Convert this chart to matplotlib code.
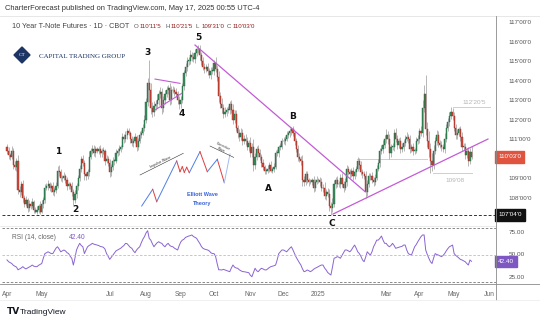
import numpy as np
import pandas as pd
import matplotlib
matplotlib.use("Agg")
import matplotlib.pyplot as plt
import matplotlib.transforms as mtransforms
from matplotlib.patches import Polygon

plt.rcParams['font.family'] = ['Liberation Sans', 'DejaVu Sans']

# ---------------- data (10Y T-Note futures, daily) ----------------
first_open = 110.6
closes = [
    110.4, 110.2, 110.1, 110.4, 109.7,
    109.6, 109.9, 108.4, 108.3, 108.7,
    108.0, 107.7, 107.9, 107.5, 107.7,
    107.6, 107.8, 107.4, 107.3, 107.4,
    107.6, 107.3, 107.7, 107.9, 108.5,
    108.6, 108.7, 108.5, 108.6, 108.3,
    108.4, 108.6, 109.4, 109.3, 109.0,
    109.0, 109.1, 108.9, 108.6, 108.7,
    108.6, 108.3, 107.9, 108.2, 108.6,
    109.0, 109.5, 110.0, 109.8, 109.2,
    109.1, 109.3, 110.1, 110.4, 110.5,
    110.3, 110.5, 110.4, 110.5, 110.3,
    110.4, 110.4, 109.9, 110.0, 109.8,
    109.3, 109.6, 109.9, 109.9, 110.3,
    110.4, 110.5, 110.6, 111.1, 111.0,
    111.2, 111.4, 111.3, 111.0, 110.8,
    110.9, 111.1, 110.6, 110.9, 111.2,
    111.3, 111.6, 112.0, 112.9, 113.9,
    113.5, 112.6, 112.4, 112.7, 112.8,
    113.0, 113.3, 113.4, 112.6, 113.0,
    113.3, 113.5, 113.6, 113.0, 113.5,
    113.5, 113.4, 113.3, 113.0, 112.8,
    113.0, 113.7, 114.4, 114.7, 115.0,
    115.0, 115.3, 115.2, 115.1, 115.4,
    115.6, 115.6, 115.3, 115.0, 114.7,
    114.6, 114.7, 114.5, 114.3, 114.5,
    114.5, 114.9, 114.6, 114.2, 113.2,
    112.8, 112.6, 112.3, 112.4, 112.5,
    112.5, 112.8, 112.5, 112.0, 112.3,
    111.6, 111.3, 111.1, 111.3, 110.9,
    111.0, 110.9, 110.6, 110.8, 110.3,
    110.6, 109.7, 110.1, 110.5, 110.3,
    110.1, 109.8, 109.6, 109.4, 109.4,
    109.5, 109.7, 109.4, 109.5, 109.6,
    110.3, 110.3, 110.6, 110.6, 110.9,
    110.9, 111.0, 111.2, 111.3, 111.4,
    111.5, 111.3, 110.9, 110.5, 110.1,
    110.0, 109.9, 108.9, 108.8, 109.2,
    108.9, 108.8, 108.8, 108.9, 108.5,
    108.8, 108.9, 108.9, 108.8, 108.5,
    108.5, 108.1, 108.3, 108.2, 107.6,
    107.5, 107.7, 108.7, 108.9, 108.7,
    108.7, 109.0, 108.7, 108.5, 108.8,
    109.5, 109.3, 109.2, 109.4, 109.1,
    109.3, 109.5, 109.9, 109.7, 109.3,
    109.2, 109.1, 108.3, 108.7, 109.1,
    109.1, 108.9, 108.8, 109.0, 109.5,
    109.8, 110.4, 110.5, 110.7, 111.0,
    111.2, 111.0, 110.3, 110.6, 110.6,
    111.3, 111.0, 110.7, 110.9, 110.5,
    110.6, 110.8, 111.0, 111.1, 111.0,
    110.5, 110.6, 110.4, 110.4, 110.9,
    111.0, 111.4, 111.3, 112.6, 113.3,
    111.5, 110.9, 110.5, 109.9, 109.7,
    110.4, 110.9, 111.2, 110.8, 110.7,
    110.6, 110.5, 111.0, 111.6, 111.9,
    112.2, 112.4, 112.2, 111.6, 111.2,
    111.3, 111.5, 111.1, 110.6, 110.6,
    110.2, 110.4, 109.9, 110.36, 110.094,
]
wick_hi = [
    .15, .2, .1, .25, .15,  .2, .15, .3, .2, .15,  .2, .15, .2, .1, .2,
    .15, .2, .1, .15, .2,   .1, .25, .2, .15, .2,  .15, .2, .1, .15, .2,
    .15, .2, .25, .3, .2,   .15, .2, .1, .15, .1,  .1, .2, .15, .2, .15,
    .15, .2, .15, .2, .15,  .1, .2, .3, .15, .2,   .2, .15, .1, .15, .2,
    .15, .2, .1, .2, .15,   .2, .15, .2, .1, .2,   .15, .2, .1, .2, .15,
    .2, .15, .2, .1, .15,   .15, .2, .1, .15, .2,  .15, .2, .25, .2, .25,
    1.15, .4, .3, .25, .2,  .3, .2, .25, .2, .2,   .2, .25, .2, .3, .2,
    .2, .15, .2, .15, .2,   .2, .2, .15, .2, .2,   .2, .25, .15, .2, .2,
    .15, .2, .2, .15, .2,   .2, .15, .2, .15, .2,  .2, .15, .3, .2, .3,
    .2, .3, .2, .25, .15,   .2, .15, .2, .3, .2,   .2, .15, .2, .3, .2,
    .2, .25, .2, .15, .3,   .2, .4, .2, .15, .2,   .2, .15, .2, .1, .15,
    .2, .15, .2, .1, .2,    .15, .2, .1, .2, .15,  .2, .15, .2, .1, .15,
    .15, .2, .1, .15, .2,   .2, .15, .3, .2, .2,   .15, .1, .15, .1, .2,
    .15, .2, .1, .15, .2,   .2, .3, .15, .2, .25,  .2, .3, .2, .15, .2,
    .15, .2, .25, .15, .2,  .2, .15, .2, .15, .2,  .2, .15, .2, .15, .2,
    .2, .15, .3, .2, .15,   .15, .2, .15, .2, .2,  .2, .15, .2, .25, .2,
    .3, .2, .25, .15, .2,   .2, .25, .2, .15, .2,  .2, .15, .2, .25, .15,
    .2, .15, .2, .15, .2,   .2, .2, .3, .4, .5,    1.0, .4, .5, .3, .4,
    .3, .2, .25, .2, .15,   .2, .15, .3, .2, .2,   .2, .24, .2, .2, .2,
    .2, .15, .2, .25, .2,   .2, .15, .2, .2, .31,
]
wick_lo = [
    .15, .2, .15, .1, .2,   .15, .2, .2, .25, .15,  .2, .15, .1, .2, .15,
    .15, .1, .2, .1, .15,   .2, .15, .1, .2, .15,   .1, .2, .15, .2, .15,
    .2, .15, .1, .2, .15,   .2, .1, .15, .2, .15,   .15, .2, .25, .15, .2,
    .2, .15, .2, .15, .3,   .2, .15, .2, .1, .15,   .15, .2, .1, .15, .2,
    .2, .15, .2, .1, .15,   .25, .2, .15, .2, .1,   .15, .2, .15, .1, .2,
    .15, .2, .1, .2, .15,   .2, .1, .2, .15, .1,    .15, .1, .2, .15, .2,
    .6, .3, .25, .2, .2,    .2, .25, .2, .3, .2,    .2, .15, .2, .25, .2,
    .15, .2, .15, .2, .25,  .2, .15, .2, .15, .2,   .2, .15, .2, .15, .2,
    .15, .2, .25, .2, .15,  .2, .15, .2, .15, .2,   .15, .2, .15, .2, .3,
    .2, .25, .2, .15, .2,   .15, .2, .15, .2, .15,  .2, .25, .2, .15, .2,
    .15, .2, .15, .2, .2,   .2, .3, .2, .15, .2,    .15, .2, .15, .2, .2,
    .15, .2, .1, .15, .2,   .1, .15, .2, .15, .1,   .15, .2, .1, .15, .2,
    .2, .15, .2, .15, .2,   .15, .2, .3, .2, .15,   .15, .2, .1, .15, .2,
    .15, .1, .15, .2, .15,  .2, .15, .2, .15, .25,  .375, .2, .15, .2, .15,
    .15, .2, .15, .2, .1,   .2, .15, .2, .15, .2,   .15, .2, .15, .2, .15,
    .2, .15, .3, .2, .15,   .2, .15, .2, .15, .1,   .15, .2, .15, .2, .15,
    .2, .25, .3, .2, .15,   .2, .15, .2, .15, .2,   .15, .2, .15, .1, .2,
    .2, .15, .2, .15, .1,   .15, .2, .15, .2, .2,   .3, .3, .4, .65, .3,
    .2, .15, .2, .2, .15,   .2, .15, .2, .15, .2,   .2, .15, .2, .2, .2,
    .2, .15, .2, .2, .15,   .2, .15, .25, .15, .125,
]
rsi = [
    44, 42, 41, 40, 38,   37, 36, 33, 34, 35,   36.5, 35, 34, 35, 36,
    37, 38.3, 37, 36.5, 36.5,   38, 39, 40, 46, 51,   52, 53, 52, 51, 51,
    54, 57, 58.6, 56, 53,   54, 55, 54, 52, 51,   48, 45.8, 38.3, 46, 55,
    59, 62.4, 60, 58.6, 51,   55, 58.6, 60, 61, 62.4,   61.5, 61, 60.5, 60, 59,
    58.6, 58, 56, 51, 48,   44.6, 47, 49.4, 52, 54,   55, 56, 57, 58.6, 60,
    62.4, 62, 60, 58, 56.9,   54, 52, 55, 57, 58.6,   63, 67, 69.8, 74, 76.4,
    68, 66, 62, 58.6, 61,   63, 64.2, 63, 62.4, 60,   58.6, 61, 62.4, 60, 59,
    58.6, 57, 56, 55, 60,   64, 66, 67, 69, 69.8,   70.5, 71, 71.7, 70, 69,
    68, 65, 62.4, 59, 56.9,   56, 55.5, 55, 54, 52,   51, 51, 48, 40, 33,
    33, 32.8, 33.5, 32.8, 32,   31.5, 30.9, 35, 38.3, 36,   35, 34.7, 33, 32, 31,
    30.9, 30.5, 30, 29.8, 27,   25.3, 30, 34.7, 32, 30.9,   33, 34.7, 34, 33, 32.8,
    34, 35.5, 36.5, 37, 37.5,   38.3, 44, 51, 53, 55,   55, 54, 53, 55, 57,
    58.6, 55, 51, 47, 43.9,   41, 38.3, 34, 30.9, 31.5,   32.8, 32, 30.9, 32, 33.5,
    34.7, 35.5, 36.5, 37.5, 38.3,   38.3, 35, 32.8, 30, 28.5,   27.2, 36, 45.8, 46.5, 47.6,
    47, 45.8, 49, 52, 55,   55, 54, 53, 55, 58,   60.5, 57, 53, 51, 48,
    44, 42, 47, 53, 51,   49.4, 53, 58.6, 62, 66,   66, 68, 70.5, 66, 62.4,
    62.4, 60, 58.6, 60, 62.4,   60, 56.9, 57.5, 58, 58.6,   59, 60.5, 60.5, 55, 51,
    50, 49.4, 54, 58.6, 61,   64.2, 67, 69.8, 71.7, 71.7,   55, 50, 45.8, 42, 40,
    46, 51, 50, 49.4, 48.5,   47.6, 49, 51, 54, 56.5,   58.6, 59.5, 60.5, 51, 49,
    47.6, 46, 44.5, 43.9, 43,   42, 40, 38.3, 43.9, 42.4,
]
month_labels = ["Apr", "May", "Jul", "Aug", "Sep", "Oct", "Nov", "Dec",
                "2025", "Mar", "Apr", "May", "Jun"]
month_starts = ["2024-04-01", "2024-05-01", "2024-07-01", "2024-08-01",
                "2024-09-02", "2024-10-01", "2024-11-01", "2024-12-02",
                "2025-01-01", "2025-03-03", "2025-04-01", "2025-05-01",
                "2025-06-02"]
price_ticks = [108, 109, 111, 112, 113, 114, 115, 116, 117]
rsi_ticks = [25, 50, 75]

wave_names = ["1", "2", "3", "4", "5", "A", "B", "C"]
wave_idx = [32.3, 43, 89.2, 110.8, 120.9, 165.2, 181, 205.7]
wave_price = [110.35, 107.38, 115.46, 112.34, 116.23, 108.5, 112.14, 106.71]

trend_5b_idx, trend_5b_px = [119, 226.6], [115.82, 108.32]
trend_c_idx, trend_c_px = [206.3, 304.4], [107.17, 111.01]
tri_up_idx, tri_up_px = [93.7, 109.5], [114.08, 113.86]
tri_lo_idx, tri_lo_px = [93.7, 110.6], [112.50, 113.35]

last_price = 110.094
support_price = 107.125
level_hi, level_hi_idx = 112.64, [282.3, 305.7]
level_lo, level_lo_idx = 109.25, [269.6, 294.3]
level_mid, level_mid_idx = 110.0, [221.5, 265.8]

legend_fields = ["O", "H", "L", "C"]
legend_values = ["110'11'5", "110'21'5", "109'31'0", "110'03'0"]

# Elliott wave sketch (relative coordinates inside the small inset image)
ew_x = [3.7, 14.7, 18.7, 38.7, 42, 44.3, 46.3, 48.7, 51.3, 62, 69.3, 79.3, 86.3, 92]
ew_y = [66, 49.3, 61.7, 21, 31.7, 26.7, 32.3, 27.3, 32.7, 11.7, 31.7, 19.3, 42.7, 14]

# ---------------- figure ----------------
W, H = 540, 324
fig = plt.figure(figsize=(W / 100, H / 100), dpi=100)
fig.patch.set_facecolor("white")

def fax(x0, y0, x1, y1):
    return [x0 / W, 1 - y1 / H, (x1 - x0) / W, (y1 - y0) / H]

ax = fig.add_axes(fax(2, 16, 496, 226))
axr = fig.add_axes(fax(2, 226, 496, 284))

n = len(closes)
x = np.arange(n)
c = np.array(closes)
o = np.r_[first_open, c[:-1]]
hi = np.maximum(o, c) + np.array(wick_hi)
lo = np.minimum(o, c) - np.array(wick_lo)
up = c >= o

XL = ((2 - 7) / 1.58, (496 - 7) / 1.58)

ax.vlines(x, lo, hi, color="#9a9a9a", lw=0.5, zorder=2)
body_col = np.where(up, "#3c8c5c", "#d0493c")
edge_col = np.where(up, "#1f6440", "#9c2a20")
ax.bar(x, np.maximum(np.abs(c - o), 0.03), bottom=np.minimum(o, c), width=0.72,
       color=body_col, edgecolor=edge_col, linewidth=0.3, zorder=3)

ax.set_xlim(*XL)
ax.set_ylim(117 - 204 / 19.54, 117 + 6 / 19.54)
for s in ax.spines.values():
    s.set_visible(False)
ax.set_xticks([])
ax.yaxis.tick_right()
ax.set_yticks(price_ticks)
ax.set_yticklabels([f"{p}'00'0" for p in price_ticks])
ax.tick_params(axis="y", length=0, pad=9, labelsize=4.5, labelcolor="#555555")

pink = "#c35bd6"
ax.plot(trend_5b_idx, trend_5b_px, color=pink, lw=0.9, zorder=4)
ax.plot(trend_c_idx, trend_c_px, color=pink, lw=0.9, zorder=4)
ax.plot(tri_up_idx, tri_up_px, color=pink, lw=0.8, zorder=4)
ax.plot(tri_lo_idx, tri_lo_px, color=pink, lw=0.8, zorder=4)

ax.axhline(support_price, color="#333333", lw=0.7, ls=(0, (3, 2)), zorder=1)
ax.plot(level_hi_idx, [level_hi] * 2, color="#cfcfcf", lw=0.7, zorder=1)
ax.plot(level_lo_idx, [level_lo] * 2, color="#cfcfcf", lw=0.7, zorder=1)
ax.plot(level_mid_idx, [level_mid] * 2, color="#cfcfcf", lw=0.7, zorder=1)
ax.text(296, 112.9, "112'20'5", fontsize=4.6, color="#b5b5b5", ha="center", va="center")
ax.text(283.5, 108.9, "109'08", fontsize=4.6, color="#b5b5b5", ha="center", va="center")

for nm, xi, yi in zip(wave_names, wave_idx, wave_price):
    ax.text(xi, yi, nm, fontsize=6.5, fontweight="bold", color="#111111",
            ha="center", va="center", family="DejaVu Sans", zorder=6)

tr = mtransforms.blended_transform_factory(ax.transAxes, ax.transData)
ax.text(1.004, last_price, "110'03'0", transform=tr, fontsize=4.5, color="white",
        ha="left", va="center", clip_on=False, zorder=10,
        bbox=dict(boxstyle="square,pad=0.5", fc="#e0533f", ec="#e0533f"))
ax.text(1.004, support_price, "107'04'0", transform=tr, fontsize=4.5, color="white",
        ha="left", va="center", clip_on=False, zorder=10,
        bbox=dict(boxstyle="square,pad=0.5", fc="#111111", ec="#111111"))

# RSI panel
axr.plot(x, rsi, color="#8a63d2", lw=0.7)
axr.set_xlim(*XL)
axr.set_ylim(50 - 29.5 / 0.9, 50 + 28.5 / 0.9)
for lv, col in [(80, "#777777"), (50, "#bdbdbd"), (20, "#777777")]:
    axr.axhline(lv, color=col, lw=0.6, ls=(0, (3, 2)))
for s in axr.spines.values():
    s.set_visible(False)
axr.yaxis.tick_right()
axr.set_yticks(rsi_ticks)
axr.set_yticklabels([f"{v:.2f}" for v in rsi_ticks])
axr.tick_params(axis="y", length=0, pad=9, labelsize=4.6, labelcolor="#555555")
all_days = pd.bdate_range("2024-04-01", "2025-06-30")
mpos = all_days.get_indexer(pd.to_datetime(month_starts))
axr.set_xticks(mpos)
axr.set_xticklabels(month_labels)
axr.tick_params(axis="x", length=0, pad=5, labelsize=4.8, labelcolor="#666666")
trr = mtransforms.blended_transform_factory(axr.transAxes, axr.transData)
axr.text(1.004, rsi[-1], f"{rsi[-1]:.2f}", transform=trr, fontsize=4.6, color="white",
         ha="left", va="center", clip_on=False, zorder=10,
         bbox=dict(boxstyle="square,pad=0.45", fc="#7e57c2", ec="#7e57c2"))
axr.text(0.02, 0.78, "RSI (14, close)", transform=axr.transAxes, fontsize=4.8, color="#666666")
axr.text(0.135, 0.78, f"{rsi[-1]:.2f}", transform=axr.transAxes, fontsize=4.8, color="#7e57c2")

# overlay for chrome
ov = fig.add_axes([0, 0, 1, 1], zorder=20)
ov.set_xlim(0, W)
ov.set_ylim(H, 0)
ov.axis("off")
ov.patch.set_alpha(0)
ov.plot([0, W], [16, 16], color="#e3e3e3", lw=0.6)
ov.plot([0, 496], [226, 226], color="#e8e8e8", lw=0.6)
ov.plot([0, W], [284, 284], color="#8a8a8a", lw=0.6)
ov.plot([496, 496], [16, 300], color="#8a8a8a", lw=0.6)
ov.plot([0, W], [300, 300], color="#eeeeee", lw=0.6)

ov.text(5, 8, "CharterForecast published on TradingView.com, May 17, 2025 00:55 UTC-4",
        fontsize=5.4, color="#333333", va="center", ha="left")
ov.text(12, 26.5, "10 Year T-Note Futures · 1D · CBOT", fontsize=5.2, color="#444444",
        va="center", ha="left")
for xx, lab, val in zip([134, 165, 196, 227], legend_fields, legend_values):
    ov.text(xx, 26.5, lab, fontsize=4.4, color="#555555", va="center", ha="left")
    ov.text(xx + 5.4, 26.5, val, fontsize=4.4, color="#8e1f1f", va="center", ha="left")

# logo
ov.add_patch(Polygon([(14, 55), (22, 47), (30, 55), (22, 63)], closed=True,
                     fc="#1d3564", ec="#1d3564"))
ov.text(22, 55.3, "CT", fontsize=3.8, color="white", ha="center", va="center",
        family="Liberation Serif")
ov.text(39, 56, "CAPITAL TRADING GROUP", fontsize=5.0, color="#1d3564",
        ha="left", va="center", family="Liberation Serif")

# TradingView footer
ov.text(7, 312, "TV", fontsize=6.5, fontweight="bold", color="#131722", ha="left",
        va="center", family="DejaVu Sans")
ov.text(20, 312, "TradingView", fontsize=6.0, color="#131722", ha="left", va="center")

# Elliott wave inset
ins = fig.add_axes(fax(138, 140, 234, 210), zorder=15)
ins.set_xlim(0, 96)
ins.set_ylim(70, 0)
ins.axis("off")
ins.patch.set_alpha(0)
blue, red, lblue = "#4d7fe6", "#e03c3c", "#9fbcf2"
seg_cols = [blue, red, blue, red, red, red, red, red, blue, red, blue, red, lblue]
for i, col in enumerate(seg_cols):
    ins.plot(ew_x[i:i + 2], ew_y[i:i + 2], color=col, lw=0.7)
ins.plot([2, 45.3], [35, 13.3], color="#333333", lw=0.4)
ins.text(22, 22, "Impulse Wave", fontsize=2.6, rotation=26, color="#333333",
         ha="center", va="center")
ins.plot([72, 97], [6, 18], color="#333333", lw=0.4)
ins.text(84, 8, "Corrective\nWave", fontsize=2.4, rotation=-25, color="#333333",
         ha="center", va="center", linespacing=0.9)
ins.text(64, 55, "Elliott Wave", fontsize=4.0, color="#3a64d8", ha="center", va="center",
         fontweight="bold")
ins.text(64, 63, "Theory", fontsize=4.0, color="#3a64d8", ha="center", va="center",
         fontweight="bold")

fig.savefig("out.png", dpi=100, facecolor="white")
